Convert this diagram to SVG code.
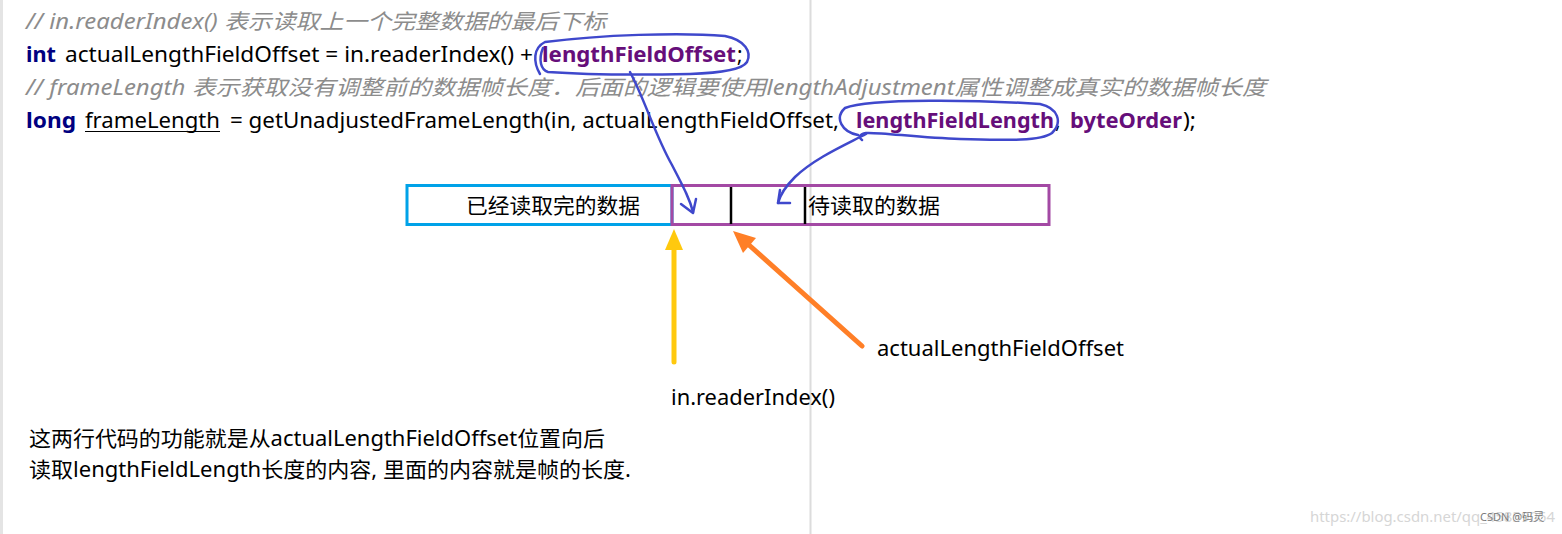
<svg xmlns="http://www.w3.org/2000/svg" width="1562" height="534" viewBox="0 0 1562 534">
<style>
text{font-family:"Noto Sans","Noto Sans CJK SC",sans-serif;font-size:21px;fill:#000}
.cm{font-style:italic;fill:#8c8c8c}
.kw{font-weight:bold;fill:#000080}
.pp{font-weight:bold;fill:#660E7A}
.lb{font-size:21px}
.pen{fill:none;stroke:#3F48CC;stroke-width:2.5;stroke-linecap:round;stroke-linejoin:round}
</style>
<rect x="0" y="0" width="1562" height="534" fill="#fff"/>
<rect x="0" y="0" width="3" height="534" fill="#e4e4e4"/>
<line x1="810.5" y1="0" x2="810.5" y2="534" stroke="#dcdcdc" stroke-width="2"/>

<g id="code">
<text class="cm" x="26" y="29" textLength="580" lengthAdjust="spacingAndGlyphs">// in.readerIndex() 表示读取上一个完整数据的最后下标</text>
<text class="kw" x="26" y="62" textLength="30" lengthAdjust="spacingAndGlyphs">int</text>
<text x="65" y="62" textLength="468" lengthAdjust="spacingAndGlyphs">actualLengthFieldOffset = in.readerIndex() +</text>
<text class="pp" x="542" y="62" textLength="194" lengthAdjust="spacingAndGlyphs">lengthFieldOffset</text>
<text x="737" y="62">;</text>
<text class="cm" x="26" y="95" textLength="1240" lengthAdjust="spacingAndGlyphs">// frameLength 表示获取没有调整前的数据帧长度．后面的逻辑要使用lengthAdjustment属性调整成真实的数据帧长度</text>
<text class="kw" x="26" y="128" textLength="50" lengthAdjust="spacingAndGlyphs">long</text>
<text x="85" y="128" textLength="135" lengthAdjust="spacingAndGlyphs">frameLength</text>
<line x1="85" y1="131.5" x2="220" y2="131.5" stroke="#000" stroke-width="1.2"/>
<text x="230" y="128" textLength="609" lengthAdjust="spacingAndGlyphs">= getUnadjustedFrameLength(in, actualLengthFieldOffset,</text>
<text class="pp" x="856" y="128" textLength="198" lengthAdjust="spacingAndGlyphs">lengthFieldLength</text>
<text x="1055" y="128">,</text>
<text class="pp" x="1070" y="128" textLength="112" lengthAdjust="spacingAndGlyphs">byteOrder</text>
<text x="1183" y="128" textLength="13" lengthAdjust="spacingAndGlyphs">);</text>
</g>

<g id="box-read">
<rect x="407" y="185.5" width="265" height="39" fill="none" stroke="#00A2E8" stroke-width="3"/>
<text x="466" y="213" textLength="174" lengthAdjust="spacingAndGlyphs">已经读取完的数据</text>
</g>
<g id="box-unread">
<rect x="672" y="185.5" width="377" height="39" fill="none" stroke="#A349A4" stroke-width="3"/>
<line x1="731" y1="187" x2="731" y2="224" stroke="#000" stroke-width="2.5"/>
<line x1="805" y1="187" x2="805" y2="224" stroke="#000" stroke-width="2.5"/>
<text x="808" y="213" textLength="132" lengthAdjust="spacingAndGlyphs">待读取的数据</text>
</g>

<g id="label-actual">
<text class="lb" x="877" y="356" textLength="247" lengthAdjust="spacingAndGlyphs">actualLengthFieldOffset</text>
</g>
<g id="label-reader">
<text class="lb" x="671" y="405" textLength="164" lengthAdjust="spacingAndGlyphs">in.readerIndex()</text>
</g>
<g id="note">
<text x="29" y="446" textLength="576" lengthAdjust="spacingAndGlyphs">这两行代码的功能就是从actualLengthFieldOffset位置向后</text>
<text x="29" y="477" textLength="602" lengthAdjust="spacingAndGlyphs">读取lengthFieldLength长度的内容, 里面的内容就是帧的长度.</text>
</g>

<g id="connectors">
<path class="pen" d="M 540 74 C 533 62, 533 48, 545 42 C 600 35, 680 32, 725 36 C 745 40, 752 52, 747 62 C 742 70, 720 73, 690 74 C 640 75, 590 75, 548 72 C 541 70, 538 60, 543 48"/>
<path class="pen" d="M 630 72 C 645 100, 655 135, 672 165 C 685 190, 690 200, 693 212"/>
<path class="pen" d="M 681 204 L 693 213 L 696 199"/>
<path class="pen" d="M 858 135 C 842 132, 834 118, 845 108 C 870 98, 980 100, 1040 104 C 1058 108, 1063 122, 1052 133 C 1040 142, 1000 140, 960 139 C 920 138, 880 132, 866 133 C 860 134, 858 137, 862 140"/>
<path class="pen" d="M 866 134 C 845 145, 815 158, 795 177 C 785 187, 780 195, 778 203"/>
<path class="pen" d="M 780 190 L 778 203 L 790 203"/>
<line x1="674" y1="248" x2="674" y2="362" stroke="#FFC90E" stroke-width="5" stroke-linecap="round"/>
<polygon points="674,229 665,250 683,250" fill="#FFC90E"/>
<line x1="862" y1="346" x2="749" y2="245" stroke="#FF7F27" stroke-width="5" stroke-linecap="round"/>
<polygon points="733,231 756,238 743,253" fill="#FF7F27"/>
</g>

<g id="watermark">
<text x="1310" y="522" style="font-size:15px;fill:#d6d6d6" textLength="245" lengthAdjust="spacingAndGlyphs">https://blog.csdn.net/qq_45859054</text>
<text x="1480" y="521" style="font-size:11px;fill:#7a7a7a">CSDN @码灵</text>
</g>
</svg>
